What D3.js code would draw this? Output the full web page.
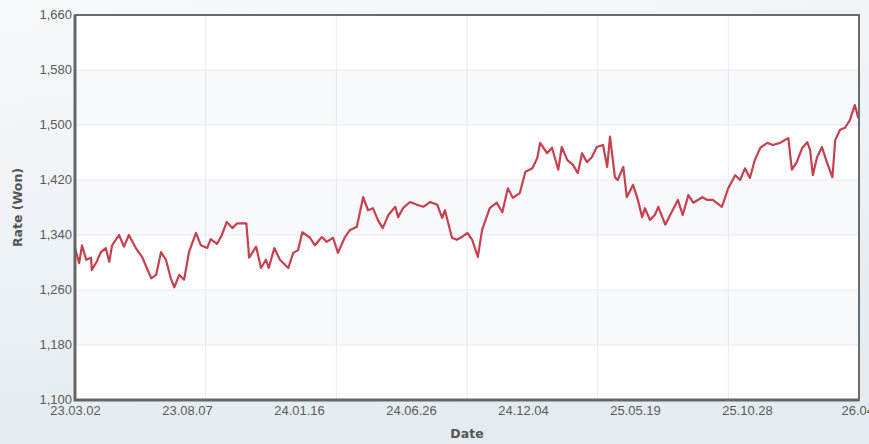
<!DOCTYPE html>
<html lang="en">
<head>
<meta charset="UTF-8" />
<title>Rate (Won)</title>
<script src="https://cdn.jsdelivr.net/npm/d3@7"></script>
<style>
  body { margin: 0; }
  svg { display: block; font-family: "DejaVu Sans", Verdana, sans-serif; }
  .tick text { fill: #5a5a5a; font-size: 13px; }
</style>
</head>
<body>
<script>
// readings
var dates = ["2023-03-02","2023-03-08","2023-03-12","2023-03-18","2023-03-25","2023-03-26","2023-04-02","2023-04-08","2023-04-15","2023-04-20",
  "2023-04-24","2023-05-04","2023-05-11","2023-05-18","2023-05-28","2023-06-06","2023-06-19","2023-06-26","2023-07-03","2023-07-10",
  "2023-07-17","2023-07-22","2023-07-29","2023-08-05","2023-08-12","2023-08-22","2023-08-29","2023-09-07","2023-09-12","2023-09-21",
  "2023-09-28","2023-10-05","2023-10-13","2023-10-20","2023-11-02","2023-11-06","2023-11-16","2023-11-23","2023-11-30","2023-12-04",
  "2023-12-12","2023-12-20","2024-01-01","2024-01-08","2024-01-15","2024-01-21","2024-02-01","2024-02-08","2024-02-18","2024-02-25",
  "2024-03-05","2024-03-12","2024-03-22","2024-03-29","2024-04-08","2024-04-17","2024-04-24","2024-05-01","2024-05-08","2024-05-15",
  "2024-05-23","2024-06-02","2024-06-06","2024-06-13","2024-06-23","2024-07-03","2024-07-12","2024-07-22","2024-08-01","2024-08-08",
  "2024-08-12","2024-08-22","2024-08-29","2024-09-05","2024-09-13","2024-09-20","2024-09-28","2024-10-04","2024-10-15","2024-10-25",
  "2024-11-02","2024-11-10","2024-11-17","2024-11-27","2024-12-05","2024-12-15","2024-12-22","2024-12-26","2025-01-05","2025-01-12",
  "2025-01-21","2025-01-26","2025-02-03","2025-02-11","2025-02-18","2025-02-24","2025-03-03","2025-03-10","2025-03-17","2025-03-26",
  "2025-04-01","2025-04-05","2025-04-12","2025-04-16","2025-04-24","2025-04-29","2025-05-08","2025-05-14","2025-05-21","2025-05-25",
  "2025-06-01","2025-06-08","2025-06-13","2025-06-23","2025-06-30","2025-07-11","2025-07-18","2025-07-26","2025-08-02","2025-08-15",
  "2025-08-22","2025-08-30","2025-09-12","2025-09-21","2025-10-01","2025-10-08","2025-10-15","2025-10-22","2025-10-29","2025-11-06",
  "2025-11-16","2025-11-24","2025-12-04","2025-12-16","2025-12-21","2025-12-28","2026-01-05","2026-01-12","2026-01-16","2026-01-20",
  "2026-01-26","2026-02-02","2026-02-09","2026-02-17","2026-02-21","2026-02-28","2026-03-07","2026-03-14","2026-03-21","2026-03-26"];
var rates = [1321,1299,1325,1304,1307,1289,1301,1315,1321,1301,
  1325,1340,1323,1340,1321,1308,1277,1282,1315,1304,
  1277,1264,1282,1275,1315,1343,1325,1321,1334,1327,
  1340,1359,1350,1357,1357,1307,1323,1292,1304,1292,
  1321,1304,1292,1314,1318,1344,1336,1325,1337,1330,
  1336,1314,1337,1347,1352,1395,1376,1379,1362,1350,
  1369,1381,1366,1379,1388,1384,1381,1388,1384,1365,
  1376,1336,1333,1337,1343,1333,1308,1347,1379,1387,
  1373,1408,1394,1401,1432,1437,1452,1474,1459,1467,
  1435,1468,1449,1442,1430,1459,1446,1453,1468,1471,
  1439,1483,1424,1420,1439,1395,1413,1394,1366,1379,
  1362,1369,1381,1355,1369,1391,1369,1398,1387,1395,
  1391,1391,1381,1408,1427,1420,1437,1423,1449,1467,
  1474,1471,1474,1481,1435,1446,1467,1475,1464,1427,
  1453,1468,1446,1424,1478,1493,1496,1507,1529,1510];
var xLabels = ["23.03.02","23.08.07","24.01.16","24.06.26","24.12.04","25.05.19","25.10.28","26.04."];
var yTicks = [1100,1180,1260,1340,1420,1500,1580,1660];

var W = 869, H = 444;
var margin = {top: 15, right: 10, bottom: 44, left: 75};
var w = W - margin.left - margin.right, h = H - margin.top - margin.bottom;

var parse = d3.timeParse("%Y-%m-%d");
var data = dates.map(function(d, i) { return {date: parse(d), rate: rates[i]}; });

var svg = d3.select("body").append("svg").attr("width", W).attr("height", H);

var grad = svg.append("defs").append("linearGradient").attr("id", "bg")
  .attr("x1", 0).attr("y1", 0).attr("x2", 0.3).attr("y2", 1);
grad.append("stop").attr("offset", "0%").attr("stop-color", "#f7f9fb");
grad.append("stop").attr("offset", "100%").attr("stop-color", "#e4ecf1");
svg.append("rect").attr("width", W).attr("height", H).attr("fill", "url(#bg)");

var g = svg.append("g").attr("transform", "translate(" + margin.left + "," + margin.top + ")");

var x = d3.scaleTime().domain([parse("2023-03-02"), parse("2026-03-27")]).range([0, w]);
var y = d3.scaleLinear().domain([1100, 1660]).range([h, 0]);
var xl = d3.scalePoint().domain(xLabels).range([0, w]);

g.append("rect").attr("width", w).attr("height", h).attr("fill", "#fff");
// alternating bands
g.selectAll(".band").data(yTicks.slice(0, -1).filter(function(d, i) { return i % 2 == 1; }))
  .enter().append("rect")
  .attr("x", 0).attr("width", w)
  .attr("y", function(d) { return y(d + 80); })
  .attr("height", function(d) { return y(d) - y(d + 80); })
  .attr("fill", "#f7f9fc");

// grid
g.selectAll(".hg").data(yTicks).enter().append("line")
  .attr("x1", 0).attr("x2", w)
  .attr("y1", function(d) { return y(d); }).attr("y2", function(d) { return y(d); })
  .attr("stroke", "#e6eaee");
g.selectAll(".vg").data(d3.range(1, 6)).enter().append("line")
  .attr("x1", function(d) { return w * d / 6; }).attr("x2", function(d) { return w * d / 6; })
  .attr("y1", 0).attr("y2", h)
  .attr("stroke", "#e6eaee");

var line = d3.line().x(function(d) { return x(d.date); }).y(function(d) { return y(d.rate); });
g.append("path").datum(data).attr("d", line)
  .attr("fill", "none").attr("stroke", "#c7404f").attr("stroke-width", 2.2)
  .attr("stroke-linejoin", "round");

// frame
g.append("rect").attr("width", w).attr("height", h)
  .attr("fill", "none").attr("stroke", "#6b6b6b").attr("stroke-width", 2);
g.append("path").attr("d", "M0,0V" + h + "H" + w)
  .attr("fill", "none").attr("stroke", "#666").attr("stroke-width", 3);

var yAxis = g.append("g").call(d3.axisLeft(y).tickValues(yTicks).tickFormat(d3.format(",")).tickSize(0).tickPadding(3));
yAxis.select(".domain").remove();
yAxis.selectAll("text").attr("dy", "0.25em");

var xAxis = g.append("g").attr("transform", "translate(0," + h + ")")
  .call(d3.axisBottom(xl).tickSize(0).tickPadding(6));
xAxis.select(".domain").remove();

svg.append("text").attr("transform", "translate(22," + (margin.top + h / 2) + ") rotate(-90)")
  .attr("text-anchor", "middle").attr("font-weight", "bold").attr("font-size", 12.5)
  .attr("fill", "#555").text("Rate (Won)");
svg.append("text").attr("x", margin.left + w / 2).attr("y", 438)
  .attr("text-anchor", "middle").attr("font-weight", "bold").attr("font-size", 12.5)
  .attr("fill", "#555").text("Date");
</script>
</body>
</html>
